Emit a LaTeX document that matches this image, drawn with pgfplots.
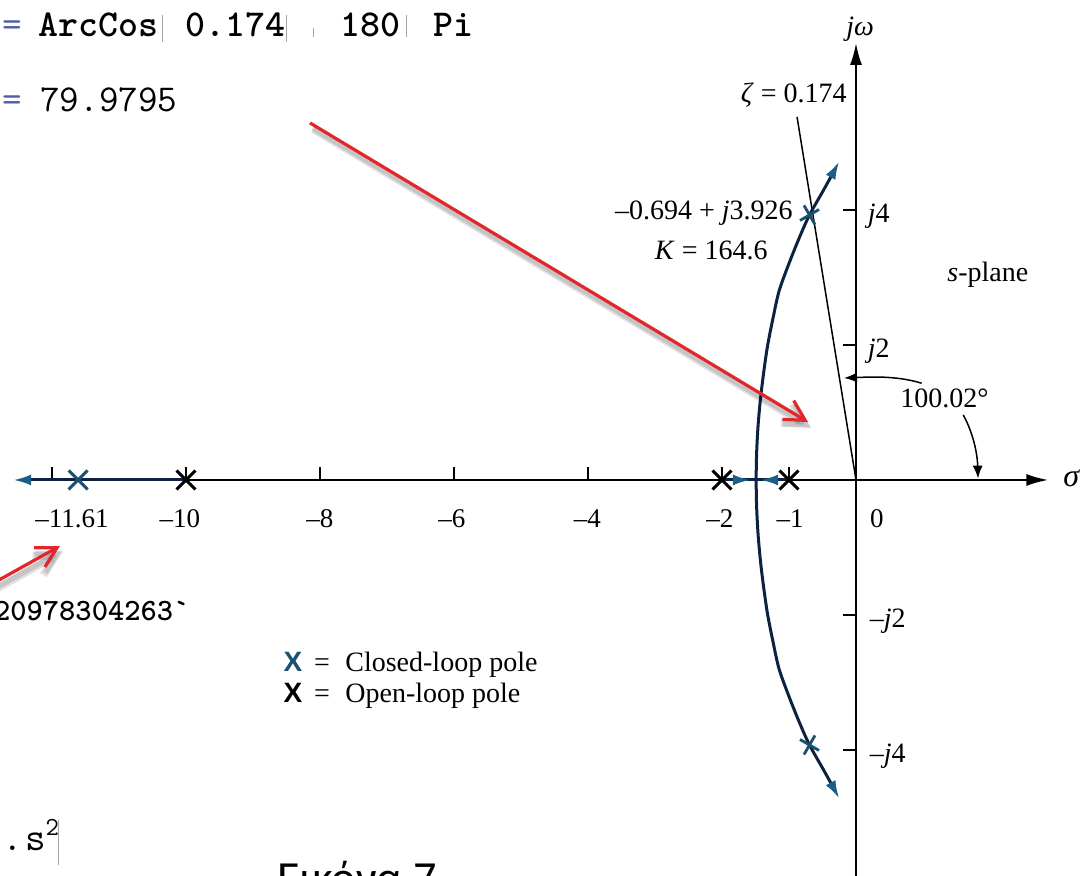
\documentclass[border=0pt]{standalone}
\usepackage{fontspec}
\setmainfont{Liberation Serif}
\setsansfont{Liberation Sans}
\newfontfamily\capfont{Carlito}
\usepackage{pgfplots}
\pgfplotsset{compat=1.18}
\usetikzlibrary{arrows.meta}

\definecolor{locus}{HTML}{0C2340}
\definecolor{locusarrow}{HTML}{1B5E86}
\definecolor{clpole}{HTML}{1D4F70}
\definecolor{notered}{HTML}{E1262C}
\definecolor{nbblue}{HTML}{5060A8}

\begin{document}
\begin{tikzpicture}[
  lbl/.style={font=\fontsize{14}{16}\selectfont, inner sep=0pt},
  tlbl/.style={font=\fontsize{13.5}{16}\selectfont, inner sep=0pt, anchor=base},
  nb/.style={font=\ttfamily\bfseries\fontsize{19}{22}\selectfont, inner sep=0pt, anchor=base west},
  nbr/.style={font=\ttfamily\fontsize{19}{22}\selectfont, inner sep=0pt, anchor=base west},
  thinbar/.style={gray!70, line width=0.5pt},
  axarrow/.style={-{Latex[length=11pt,width=6pt]}},
  lcarrow/.style={-{Latex[length=9pt,width=5.5pt,color=locusarrow]}},
  redarrow/.style={notered, line width=1.6pt, -{Straight Barb[length=10pt,width=11pt]}},
  softshade/.style={black, opacity=0.12, line width=#1, -{Straight Barb[length=10pt,width=11pt]}}
]
\begin{axis}[
  at={(0pt,0pt)}, anchor=south west,
  scale only axis, width=542.5pt, height=438pt,
  xmin=-12.776, xmax=3.418, ymin=-5.867, ymax=7.111,
  hide axis, clip=false
]

% s-plane axes
\draw[line width=1pt, axarrow] (-12.3,0) -- (2.87,0);
\draw[line width=1pt, axarrow] (0,-6.3) -- (0,6.474);

% tick marks
\draw[line width=0.8pt] (-12,0) -- (-12,0.193);
\draw[line width=0.8pt] (-10,0) -- (-10,0.193);
\draw[line width=0.8pt] (-8,0) -- (-8,0.193);
\draw[line width=0.8pt] (-6,0) -- (-6,0.193);
\draw[line width=0.8pt] (-4,0) -- (-4,0.193);
\draw[line width=0.8pt] (-2,0) -- (-2,0.193);
\draw[line width=0.8pt] (-1,0) -- (-1,0.193);
\draw[line width=0.8pt] (0,4) -- (-0.194,4);
\draw[line width=0.8pt] (0,2) -- (-0.194,2);
\draw[line width=0.8pt] (0,-2) -- (-0.194,-2);
\draw[line width=0.8pt] (0,-4) -- (-0.194,-4);

% tick labels
\node[tlbl] at (-11.70,-0.70) {–11.61};
\node[tlbl] at (-10.09,-0.70) {–10};
\node[tlbl] at (-8.00,-0.70) {–8};
\node[tlbl] at (-6.03,-0.70) {–6};
\node[tlbl] at (-4.01,-0.70) {–4};
\node[tlbl] at (-2.03,-0.70) {–2};
\node[tlbl] at (-0.985,-0.70) {–1};
\node[tlbl] at (0.313,-0.70) {0};
\node[lbl, anchor=base west] at (0.17,3.82) {\textit{j}4};
\node[lbl, anchor=base west] at (0.17,1.82) {\textit{j}2};
\node[lbl, anchor=base west] at (0.20,-2.18) {–\textit{j}2};
\node[lbl, anchor=base west] at (0.20,-4.18) {–\textit{j}4};
\node[lbl, anchor=base] at (0.06,6.59) {\textit{jω}};
\node[lbl, anchor=base west, font=\fontsize{16}{18}\selectfont] at (3.09,-0.10) {\textit{σ}};

% damping-ratio line
\addplot[black, line width=0.75pt] coordinates {(0,0) (-0.88,5.378)};

% real-axis parts of the locus
\addplot[locus, line width=1.5pt] coordinates {(-2,0) (-1,0)};
\addplot[locus, line width=1.5pt, lcarrow] coordinates {(-10,0) (-12.58,0)};
\addplot[locus, line width=1.5pt, lcarrow] coordinates {(-2,0) (-1.57,0)};
\addplot[locus, line width=1.5pt, lcarrow] coordinates {(-1,0) (-1.43,0)};

% complex branches from the breakaway point
\addplot[locus, line width=1.5pt, smooth,
  {Latex[length=9pt,width=5.5pt,color=locusarrow]}-{Latex[length=9pt,width=5.5pt,color=locusarrow]}]
  coordinates {
  (-0.25,-4.72) (-0.47,-4.32) (-0.694,-3.926) (-0.85,-3.58) (-1.003,-3.2)
  (-1.148,-2.8) (-1.238,-2.4) (-1.318,-2.0) (-1.377,-1.6) (-1.426,-1.2)
  (-1.462,-0.8) (-1.483,-0.4) (-1.49,0)
  (-1.483,0.4) (-1.462,0.8) (-1.426,1.2) (-1.377,1.6) (-1.318,2.0)
  (-1.238,2.4) (-1.148,2.8) (-1.003,3.2) (-0.85,3.58) (-0.694,3.926)
  (-0.47,4.32) (-0.25,4.72)
};

% open-loop poles
\addplot[only marks, mark=x, mark size=6.7pt, line width=1.5pt, black]
  coordinates {(-10,0) (-2,0) (-1,0)};
% closed-loop poles
\addplot[only marks, mark=x, mark size=6.7pt, line width=1.5pt, clpole]
  coordinates {(-11.61,0)};
\addplot[only marks, mark=x, mark size=5.5pt, line width=1.4pt, clpole, mark options={rotate=-15}]
  coordinates {(-0.694,3.926)};
\addplot[only marks, mark=x, mark size=5.5pt, line width=1.4pt, clpole, mark options={rotate=15}]
  coordinates {(-0.694,-3.926)};

% angle of the damping line
\draw[line width=0.75pt, -{Latex[length=6.5pt,width=5pt]}]
  (0.981,1.433) .. controls (0.6,1.55) and (0.2,1.525) .. (-0.179,1.511);
\draw[line width=0.75pt, -{Latex[length=6.5pt,width=5pt]}]
  (1.601,0.963) .. controls (1.72,0.75) and (1.81,0.45) .. (1.821,0.02);
\node[lbl, anchor=base west] at (0.657,1.067) {100.02°};

% annotations
\node[lbl, anchor=base east] at (-0.134,5.585) {\textit{ζ} = 0.174};
\node[lbl, anchor=base east] at (-0.94,3.852) {–0.694 + \textit{j}3.926};
\node[lbl, anchor=base east] at (-1.313,3.259) {\textit{K} = 164.6};
\node[lbl, anchor=base west] at (1.358,2.933) {\textit{s}-plane};

% legend
\node[lbl, anchor=base, font=\sffamily\bfseries\fontsize{14}{17}\selectfont, text=clpole] at (-8.403,-2.83) {X};
\node[lbl, anchor=base] at (-7.97,-2.83) {=};
\node[lbl, anchor=base west] at (-7.627,-2.83) {Closed-loop pole};
\node[lbl, anchor=base, font=\sffamily\bfseries\fontsize{14}{17}\selectfont] at (-8.403,-3.30) {X};
\node[lbl, anchor=base] at (-7.97,-3.30) {=};
\node[lbl, anchor=base west] at (-7.627,-3.30) {Open-loop pole};

% notebook lines
\node[nbr, text=nbblue] at (-12.746,6.563) {=};
\node[nb] at (-12.209,6.563) {ArcCos};
\draw[thinbar] (-10.358,6.49) -- (-10.358,6.89);
\node[nb] at (-10.015,6.563) {0.174};
\draw[thinbar] (-8.507,6.49) -- (-8.507,6.89);
\draw[thinbar] (-8.104,6.56) -- (-8.104,6.69);
\node[nb] at (-7.701,6.563) {180};
\draw[thinbar] (-6.716,6.56) -- (-6.716,6.89);
\node[nb] at (-6.313,6.563) {Pi};
\node[nbr, text=nbblue] at (-12.746,5.452) {=};
\node[nbr] at (-12.179,5.452) {79.9795};
\node[nb, font=\ttfamily\bfseries\fontsize{15.5}{17}\selectfont] at (-12.87,-2.089) {20978304263`};
\node[nbr, font=\ttfamily\fontsize{20}{22}\selectfont] at (-12.74,-5.496) {.};
\node[nbr, font=\ttfamily\fontsize{20}{22}\selectfont] at (-12.40,-5.496) {s};
\node[nbr, font=\ttfamily\fontsize{13}{15}\selectfont] at (-12.10,-5.274) {2};
\draw[thinbar] (-11.896,-5.037) -- (-11.896,-5.704);

% figure caption
\node[inner sep=0pt, anchor=base west, font=\capfont\fontsize{23}{26}\selectfont] at (-8.642,-6.119) {Εικόνα 7};

% red pointer arrows with soft shadows
\draw[softshade=4pt] (-8.10,5.20) -- (-0.67,0.77);
\draw[softshade=2.5pt] (-8.11,5.21) -- (-0.68,0.78);
\draw[redarrow] (-8.149,5.289) -- (-0.716,0.859);
\draw[softshade=4pt] (-12.88,-1.64) -- (-11.84,-1.06);
\draw[softshade=2.5pt] (-12.89,-1.63) -- (-11.85,-1.05);
\draw[redarrow] (-12.925,-1.556) -- (-11.881,-0.978);

\end{axis}
\pgfresetboundingbox
\path[use as bounding box] (current axis.south west) rectangle (current axis.north east);
\end{tikzpicture}
\end{document}
